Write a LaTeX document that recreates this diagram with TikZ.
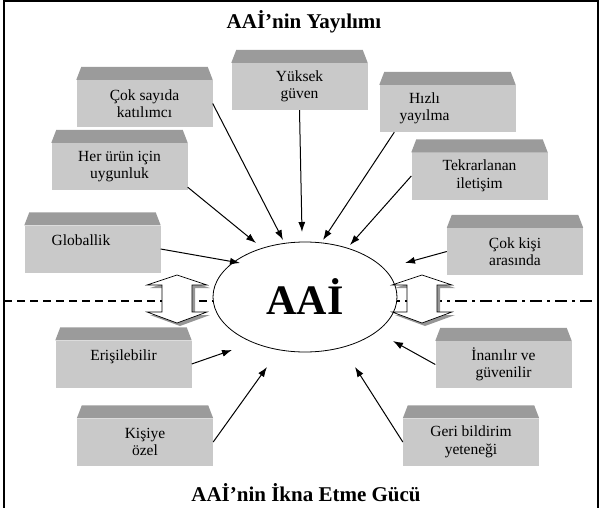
\documentclass[tikz,border=0pt]{standalone}
\usepackage{fontspec}
\setmainfont{Liberation Serif}
\usetikzlibrary{shapes.geometric,calc,arrows.meta}
\definecolor{boxgray}{RGB}{201,201,201}
\definecolor{bevelgray}{RGB}{155,155,155}
\definecolor{shadowgray}{RGB}{150,150,150}
\tikzset{
  box/.style={fill=boxgray, minimum width=136pt, minimum height=47pt, inner sep=0pt, align=center, font=\fontsize{15.5}{17.5}\selectfont},
  bevel/.style={fill=bevelgray},
  conn/.style={-{Latex[length=10pt,width=7pt]}, line width=1pt},
  title/.style={font=\fontsize{21}{24}\selectfont\bfseries},
}
\newcommand\bevelbox[1]{\fill[bevel] (#1.north west) -- ++(5,-13) -- ($(#1.north east)+(-5,-13)$) -- (#1.north east) -- cycle;}
\newcommand\dblarrow[2]{% #1 = x centre, #2 = style
  \path[#2] (#1,275) -- (#1+30,285) -- (#1+15,285) -- (#1+15,312) -- (#1+30,312) -- (#1,323) -- (#1-30,312) -- (#1-15,312) -- (#1-15,285) -- (#1-30,285) -- cycle;}
\begin{document}
\begin{tikzpicture}[x=1pt,y=-1pt]
\useasboundingbox (0,0) rectangle (605,508);
% frame
\draw[line width=2pt] (4,1) rectangle (598,515);
% titles
\node[title] (t1) at (304,22) {AAİ’nin Yayılımı};
\node[title] (t2) at (306,493) {AAİ’nin İkna Etme Gücü};
% separator lines
\coordinate (ll) at (4,301);
\coordinate (lr) at (230,301);
\coordinate (rl) at (380,301);
\coordinate (rr) at (598,301);
\draw[line width=1.5pt, dash pattern=on 8pt off 5pt] (ll) -- (lr);
\draw[line width=1.5pt, dash pattern=on 12pt off 5pt on 3pt off 5pt] (rl) -- (rr);
% ellipse
\node[draw, fill=white, ellipse, minimum width=184pt, minimum height=110pt, line width=0.8pt, font=\fontsize{42}{42}\selectfont\bfseries] (aai) at (305,297) {AAİ};
% double arrows
\begin{scope}[shift={(3,3)}]
\dblarrow{177}{fill=shadowgray}
\dblarrow{422}{fill=shadowgray}
\end{scope}
\dblarrow{177}{fill=white, draw=black, line width=0.7pt}
\dblarrow{422}{fill=white, draw=black, line width=0.7pt}
% boxes
\node[box] (b1) at (144.5,103.5) {Çok sayıda\\katılımcı};
\node[box] (b2) at (299.5,86.5) {Yüksek\\güven};
\node[box] (b3) at (447.5,108.5) {\hspace*{-46pt}Hızlı\\\hspace*{-46pt}yayılma};
\node[box] (b4) at (119.5,166.5) {Her ürün için\\uygunluk};
\node[box] (b5) at (479.5,176) {Tekrarlanan\\iletişim};
\node[box] (b6) at (92.5,249) {\hspace*{-23pt}Globallik\\\mbox{}};
\node[box] (b7) at (515,251.5) {Çok kişi\\arasında};
\node[box] (b8) at (123.5,364) {Erişilebilir\\\mbox{}};
\node[box] (b9) at (145,442) {Kişiye\\özel};
\node[box] (b10) at (503.5,364.5) {İnanılır ve\\güvenilir};
\node[box] (b11) at (471,442) {Geri bildirim\\yeteneği};
\foreach \b in {b1,b2,b3,b4,b5,b6,b7,b8,b9,b10,b11} {\bevelbox{\b}}
% arrow tips
\coordinate (e1) at (283,240);
\coordinate (e2) at (302,232);
\coordinate (e3) at (323,240);
\coordinate (e4) at (256,243);
\coordinate (e5) at (350,245);
\coordinate (e6) at (240,263);
\coordinate (e7) at (405,263);
\coordinate (e8) at (232,350);
\coordinate (e9) at (267,367);
\coordinate (e10) at (393,341);
\coordinate (e11) at (355,367);
% connectors
\draw[conn] (b1.east) -- (e1);
\draw[conn] (b2.south) -- (e2);
\draw[conn] ($(b3.south west)!0.11!(b3.south east)$) -- (e3);
\draw[conn] ($(b4.south east)+(0,-3)$) -- (e4);
\draw[conn] (b5.west) -- (e5);
\draw[conn] (b6.east) -- (e6);
\draw[conn] (b7.west) -- (e7);
\draw[conn] (b8.east) -- (e8);
\draw[conn] (b9.east) -- (e9);
\draw[conn] (b10.west) -- (e10);
\draw[conn] (b11.west) -- (e11);
\end{tikzpicture}
\end{document}
